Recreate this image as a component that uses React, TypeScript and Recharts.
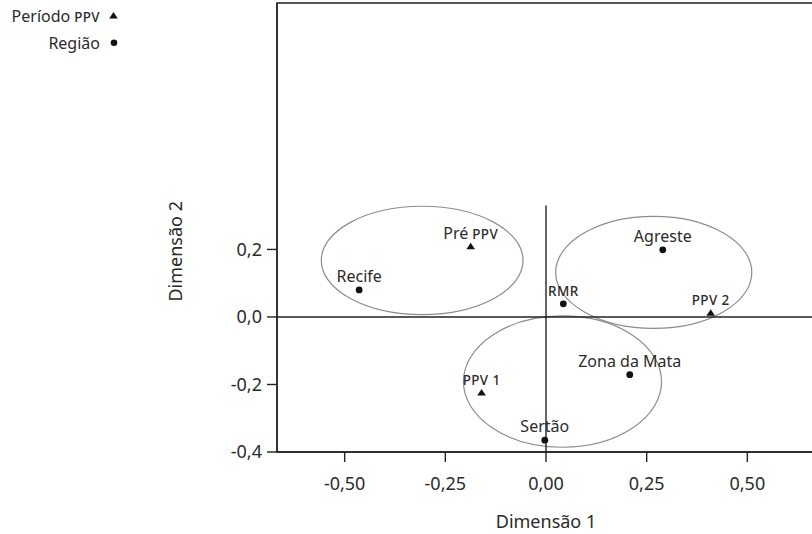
import { ScatterChart, Scatter, XAxis, YAxis, ReferenceLine, ReferenceArea, Label } from 'recharts';

// category points
const periodNames = ['Pré PPV', 'PPV 1', 'PPV 2'];
const periodX = [-0.187, -0.16, 0.409];
const periodY = [0.208, -0.225, 0.011];

const regionNames = ['Recife', 'RMR', 'Agreste', 'Zona da Mata', 'Sertão'];
const regionX = [-0.464, 0.043, 0.29, 0.208, -0.003];
const regionY = [0.08, 0.039, 0.199, -0.171, -0.365];

const xTicks = [-0.5, -0.25, 0, 0.25, 0.5];
const yTicks = [-0.4, -0.2, 0, 0.2];

// group ellipses (bounds in data units)
const ellipseX1 = [-0.558, 0.024, -0.205];
const ellipseX2 = [-0.057, 0.511, 0.287];
const ellipseY1 = [0.007, -0.034, -0.386];
const ellipseY2 = [0.328, 0.298, 0.003];

const legendNames = ['Período PPV', 'Região'];

const X_DOMAIN: [number, number] = [-0.668, 0.668];
const Y_DOMAIN: [number, number] = [-0.4, 0.93];
const TEXT = '#2b2b2b';
const FONT = '"Noto Sans", sans-serif';

const periods = periodNames.map((name, i) => ({ name, x: periodX[i], y: periodY[i] }));
const regions = regionNames.map((name, i) => ({ name, x: regionX[i], y: regionY[i] }));
const ellipses = ellipseX1.map((x1, i) => ({ x1, x2: ellipseX2[i], y1: ellipseY1[i], y2: ellipseY2[i] }));

// all-caps words (PPV, RMR, 1) are set smaller, like small caps
function Words({ text, size }: { text: string; size: number }) {
  return (
    <>
      {text.split(' ').map((w, i) => {
        const small = /^[A-Z0-9]+$/.test(w);
        return (
          <tspan key={i} fontSize={small ? size * 0.84 : size} letterSpacing={small ? 0.4 : 0} fontWeight={small ? 500 : 400}>
            {(i > 0 ? ' ' : '') + w}
          </tspan>
        );
      })}
    </>
  );
}

const triangle = (cx: number, cy: number) =>
  `${cx},${cy - 4} ${cx + 4.3},${cy + 2.5} ${cx - 4.3},${cy + 2.5}`;

const periodShape = (props: any) => {
  const { cx, cy, payload } = props;
  return (
    <g>
      <polygon points={triangle(cx, cy)} fill="#111" />
      <text x={cx} y={cy - 8} textAnchor="middle" fill={TEXT} fontFamily={FONT}>
        <Words text={payload.name} size={16} />
      </text>
    </g>
  );
};

const regionShape = (props: any) => {
  const { cx, cy, payload } = props;
  return (
    <g>
      <circle cx={cx} cy={cy} r={3.4} fill="#111" />
      <text x={cx} y={cy - 8} textAnchor="middle" fill={TEXT} fontFamily={FONT}>
        <Words text={payload.name} size={16} />
      </text>
    </g>
  );
};

const ellipseShape = (props: any) => {
  const { x, y, width, height } = props;
  return (
    <ellipse
      cx={x + width / 2}
      cy={y + height / 2}
      rx={Math.abs(width) / 2}
      ry={Math.abs(height) / 2}
      fill="none"
      stroke="#8c8c8c"
      strokeWidth={1.2}
    />
  );
};

const yTitle = (props: any) => {
  const { viewBox } = props;
  const x = viewBox.x + viewBox.width - 95;
  const y = viewBox.y + viewBox.height * 0.553;
  return (
    <text x={x} y={y} transform={`rotate(-90, ${x}, ${y})`} textAnchor="middle" fontSize={18} fill={TEXT} fontFamily={FONT}>
      Dimensão 2
    </text>
  );
};

export default function App() {
  return (
    <div style={{ position: 'fixed', left: 0, top: 0, width: 812, height: 534, overflow: 'hidden', background: '#fff', fontFamily: FONT }}>
      <ScatterChart width={830} height={534} margin={{ top: 3, right: 15, bottom: 0, left: 0 }}>
        <XAxis
          type="number"
          dataKey="x"
          domain={X_DOMAIN}
          allowDataOverflow
          ticks={xTicks}
          tickFormatter={(v: number) => v.toFixed(2).replace('.', ',')}
          tick={{ fontSize: 18, fill: TEXT, fontFamily: FONT }}
          tickSize={10}
          tickMargin={15}
          height={82}
          stroke="#222"
          strokeWidth={1.4}
        >
          <Label value="Dimensão 1" position="insideBottom" offset={6} fontSize={18} fill={TEXT} fontFamily={FONT} />
        </XAxis>
        <YAxis
          type="number"
          dataKey="y"
          domain={Y_DOMAIN}
          allowDataOverflow
          ticks={yTicks}
          tickFormatter={(v: number) => v.toFixed(1).replace('.', ',')}
          tick={{ fontSize: 18, fill: TEXT, fontFamily: FONT }}
          tickSize={10}
          tickMargin={5}
          width={277}
          stroke="#222"
          strokeWidth={1.4}
        >
          <Label content={yTitle} />
        </YAxis>
        <ReferenceArea
          x1={X_DOMAIN[0]}
          x2={X_DOMAIN[1]}
          y1={Y_DOMAIN[0]}
          y2={Y_DOMAIN[1]}
          fill="none"
          stroke="#222"
          strokeWidth={1.4}
          ifOverflow="visible"
        />
        {ellipses.map((e, i) => (
          <ReferenceArea key={i} x1={e.x1} x2={e.x2} y1={e.y1} y2={e.y2} shape={ellipseShape} ifOverflow="visible" />
        ))}
        <ReferenceLine y={0} stroke="#222" strokeWidth={1.4} />
        <ReferenceLine segment={[{ x: 0, y: -0.4 }, { x: 0, y: 0.33 }]} stroke="#222" strokeWidth={1.4} ifOverflow="visible" />
        <Scatter name={legendNames[0]} data={periods} shape={periodShape} isAnimationActive={false} />
        <Scatter name={legendNames[1]} data={regions} shape={regionShape} isAnimationActive={false} />
      </ScatterChart>
      <svg width={130} height={60} style={{ position: 'absolute', left: 0, top: 0 }}>
        <text x={100} y={21.5} textAnchor="end" fill={TEXT} fontFamily={FONT}>
          <Words text={legendNames[0]} size={16} />
        </text>
        <polygon points={triangle(113.5, 16)} fill="#111" />
        <text x={100} y={48.5} textAnchor="end" fill={TEXT} fontFamily={FONT}>
          <Words text={legendNames[1]} size={16} />
        </text>
        <circle cx={114} cy={42.7} r={3.3} fill="#111" />
      </svg>
    </div>
  );
}
